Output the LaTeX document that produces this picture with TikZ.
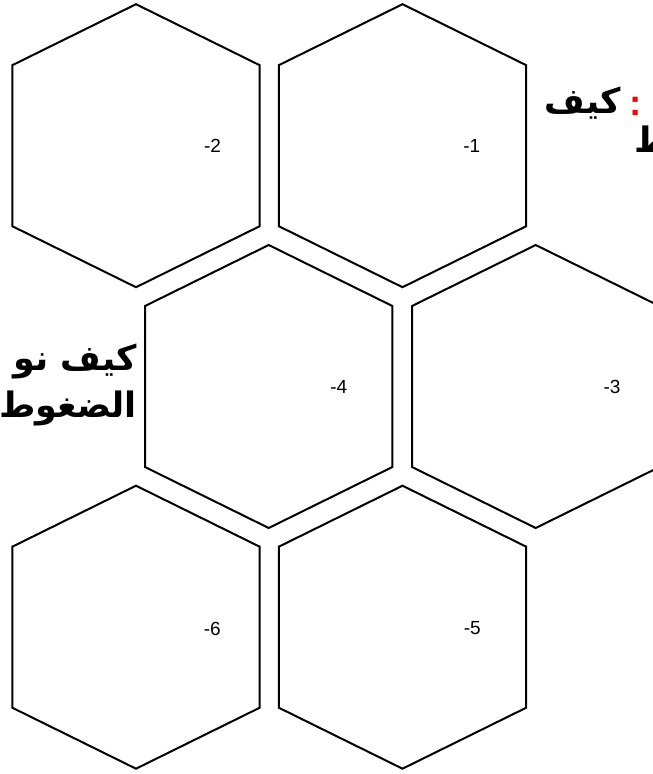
\documentclass[tikz,border=0pt]{standalone}
\usepackage{fontspec}
\setmainfont{Liberation Sans}
\newfontfamily\arabicfont[Script=Arabic]{DejaVu Sans}
\TeXXeTstate=1
\usetikzlibrary{calc}
\tikzset{
  hexline/.style={draw=black, line width=2pt, fill=white, line join=miter},
  hexlabel/.style={font=\fontsize{19}{22}\selectfont, inner sep=0pt},
  artext/.style={font=\arabicfont\bfseries\fontsize{35}{42}\selectfont, inner sep=0pt}
}
\newcommand{\hexcell}[4]{%
  \coordinate (#1) at (#2);
  \draw[hexline] ($(#1)+(0,-141.5)$) -- ($(#1)+(123.7,-80.5)$) -- ($(#1)+(123.7,80.5)$)
    -- ($(#1)+(0,141.5)$) -- ($(#1)+(-123.7,80.5)$) -- ($(#1)+(-123.7,-80.5)$) -- cycle;
  \node[hexlabel] (#1-lab) at (#3) {#4};
}
\begin{document}
\begin{tikzpicture}[x=1pt,y=-1pt]
\useasboundingbox (0,0) rectangle (653,774);
\clip (0,0) rectangle (653,774);
\fill[white] (0,0) rectangle (653,774);
% Arabic texts
\node[artext, anchor=base east] (tr1) at (621,113) {\beginR كيف\endR};
\node[artext, anchor=base, text=red, font=\sffamily\bfseries\fontsize{40}{44}\selectfont] (trc) at (636,115) {:};
\node[artext, anchor=base west] (tr2) at (634,152) {\beginR ط\endR};
\node[artext, anchor=base east] (lt1) at (137,370) {\beginR كيف نو\endR};
\node[artext, anchor=base east] (lt2) at (137,417) {\beginR الضغوط\endR};
% hexagons
\hexcell{h1}{402.5,145.7}{471.7,146}{-1}
\hexcell{h2}{136,145.7}{212.5,146}{-2}
\hexcell{h3}{535.7,386.5}{612,387}{-3}
\hexcell{h4}{268.7,386.5}{338.7,387}{-4}
\hexcell{h5}{402.5,627.2}{472.3,628.5}{-5}
\hexcell{h6}{136,627.2}{212.3,628.5}{-6}
\end{tikzpicture}
\end{document}
